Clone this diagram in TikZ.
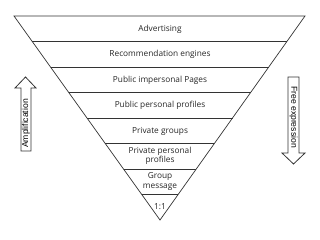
\documentclass[tikz,border=0pt]{standalone}
\usepackage{fontspec}
\setmainfont{Open Sans}
\newfontfamily\arialfont{Liberation Sans}
\usetikzlibrary{calc}
\begin{document}
\begin{tikzpicture}[x=1pt,y=-1pt,
  edge/.style={draw=black!80,line width=0.7pt},
  band/.style={font=\fontsize{8.3}{9.6}\selectfont,align=center,inner sep=0pt,text=black!85},
  arrowlbl/.style={font=\arialfont\fontsize{8.6}{10}\selectfont,inner sep=0pt,text=black}]
\useasboundingbox (0,0) rectangle (320,239);
\coordinate (TL) at (14,16);
\coordinate (TR) at (305,16);
\coordinate (A) at (160,220);
\draw[edge,line join=miter] (TL) -- (TR) -- (A) -- cycle;
\foreach \i in {1,...,7}{
  \draw[edge] ($(TL)!\i/8!(A)$) -- ($(TR)!\i/8!(A)$);
}
\node[band] (b1) at (160,29.5) {Advertising};
\node[band] (b2) at (160,54.5) {Recommendation engines};
\node[band] (b3) at (160,80) {Public impersonal Pages};
\node[band] (b4) at (160,105.5) {Public personal profiles};
\node[band] (b5) at (160,131) {Private groups};
\node[band] (b6) at (160,156) {Private personal\\profiles};
\node[band] (b7) at (160,181.5) {Group\\message};
\node[band] (b8) at (160,207) {1:1};
% left arrow
\draw[edge,line width=0.8pt,line join=miter] (21,151) -- (21,88) -- (15,88) -- (25.5,77) -- (36,88) -- (31,88) -- (31,151) -- cycle;
\node[arrowlbl,rotate=90] (amp) at (26,123.5) {Amplification};
% right arrow
\draw[edge,line width=0.8pt,line join=miter] (288,77) -- (299,77) -- (299,153) -- (305,153) -- (293.5,164) -- (282,153) -- (288,153) -- cycle;
\node[arrowlbl,rotate=-90] (fe) at (293.5,117) {Free expression};
\end{tikzpicture}
\end{document}
